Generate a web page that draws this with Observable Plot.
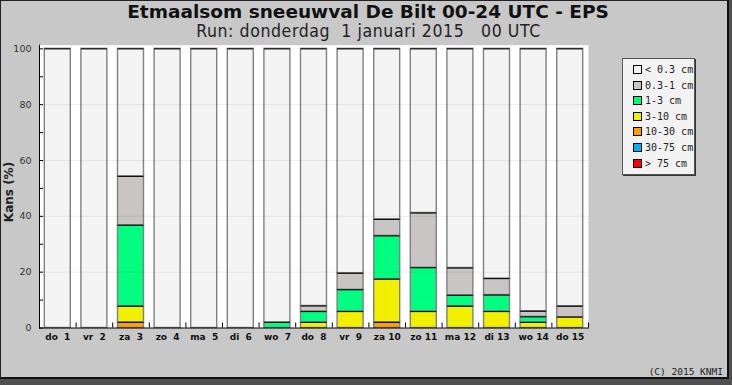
<!DOCTYPE html>
<html><head><meta charset="utf-8">
<script src="https://cdn.jsdelivr.net/npm/d3@7"></script>
<script src="https://cdn.jsdelivr.net/npm/@observablehq/plot@0.6"></script>
<style>
html,body{margin:0;padding:0;background:#c8c8c8;}
#wrap{position:relative;width:732px;height:385px;background:#505050;overflow:hidden;}
#panel{position:absolute;left:0;top:0;width:729px;height:379px;background:#c8c8c8;box-sizing:border-box;border-top:1px solid #222;border-left:1px solid #222;border-right:2px solid #111;border-bottom:2px solid #111;}
#title{position:absolute;left:0;top:1px;width:736px;text-align:center;font-family:"DejaVu Sans",sans-serif;font-weight:bold;font-size:18.5px;line-height:22px;color:#111;white-space:pre;}
#subtitle{position:absolute;left:0;top:21px;width:737px;text-align:center;font-family:"Liberation Sans Narrow","DejaVu Sans Condensed",sans-serif;font-size:17.5px;letter-spacing:0.6px;line-height:20px;color:#222;white-space:pre;}
#ylabel{position:absolute;left:9px;top:192px;transform:translate(-50%,-50%) rotate(-90deg);font-family:"DejaVu Sans",sans-serif;font-weight:bold;font-size:12px;color:#222;white-space:pre;}
#chart{position:absolute;left:0;top:0;}
#chart svg text{white-space:pre;}
#legend{position:absolute;left:622px;top:58px;width:73px;height:117px;background:#f2f2f2;box-sizing:border-box;border:1px solid #555;box-shadow:1px 1px 0 #333;}
.li{position:absolute;left:10px;height:12px;font-family:"DejaVu Sans Mono",monospace;font-size:10px;line-height:12px;color:#222;white-space:pre;}
.sw{display:inline-block;width:7px;height:7px;border:1px solid #000;vertical-align:-1px;margin-right:3px;}
#copy{position:absolute;right:9px;top:366px;font-family:"DejaVu Sans Mono",monospace;font-size:9.5px;color:#222;white-space:pre;}
</style>
</head><body>
<div id="wrap"><div id="panel"></div>
<div id="chart"></div>
<div id="title"></div>
<div id="subtitle"></div>
<div id="ylabel"></div>
<div id="legend"></div>
<div id="copy"></div>
</div>
<script>
const titleText = "Etmaalsom sneeuwval De Bilt 00-24 UTC - EPS";
const subtitleText = "Run: donderdag  1 januari 2015   00 UTC";
const yLabel = "Kans (%)";
const copyText = "(C) 2015 KNMI";

const days = ["do  1","vr  2","za  3","zo  4","ma  5","di  6","wo  7","do  8","vr  9","za 10","zo 11","ma 12","di 13","wo 14","do 15"];
// legend order (top to bottom)
const classes = ["< 0.3 cm","0.3-1 cm","1-3 cm","3-10 cm","10-30 cm","30-75 cm","> 75 cm"];
const colors  = ["#f4f4f4","#c9c5c5","#00ff80","#f0f000","#ff9f00","#00b0f0","#ff0000"];

// chance (%) per class per day
const pLt03  = [100,100,45.7,100,100,100,98,92.1,80.4,61.1,58.8,78.5,82.3,94,92.2];
const p03_1  = [0,0,17.5,0,0,0,0,2,5.9,5.9,19.6,9.8,5.9,2,3.9];
const p1_3   = [0,0,29,0,0,0,2,3.9,7.8,15.5,15.7,3.9,5.9,2,0];
const p3_10  = [0,0,5.8,0,0,0,0,2,5.9,15.5,5.9,7.8,5.9,2,3.9];
const p10_30 = [0,0,2,0,0,0,0,0,0,2,0,0,0,0,0];
const p30_75 = [0,0,0,0,0,0,0,0,0,0,0,0,0,0,0];
const pGt75  = [0,0,0,0,0,0,0,0,0,0,0,0,0,0,0];

const yLabelTicks = [0,20,40,60,80,100];
const yAllTicks = [0,10,20,30,40,50,60,70,80,90,100];
const gridTicks = [20,40,60,80];

const values = [pLt03,p03_1,p1_3,p3_10,p10_30,p30_75,pGt75];
const rows = [];
for (let k = classes.length - 1; k >= 0; k--) {
  days.forEach((d, i) => rows.push({day: d, cls: classes[k], value: values[k][i]}));
}

const W = 732, H = 385, mL = 39, mR = 144, mT = 44.7, mB = 57.5;
const step = (W - mL - mR) / days.length;

const chart = Plot.plot({
  width: W, height: H,
  marginLeft: mL, marginRight: mR, marginTop: mT, marginBottom: mB,
  style: {background: "transparent", overflow: "visible", fontFamily: "DejaVu Sans"},
  x: {domain: days, paddingInner: 0.29, paddingOuter: 0.145, round: false, label: null},
  y: {domain: [0, 101.3], label: null},
  color: {domain: classes, range: colors},
  marks: [
    Plot.frame({fill: "white", stroke: null}),
    Plot.barY(rows, {x: "day", y: "value", fill: "cls", stroke: "#808080", strokeWidth: 1.4}),
    Plot.tickY(rows.filter(d => d.value > 0), Plot.stackY2({x: "day", y: "value", z: "cls", stroke: "#111", strokeWidth: 1.2})),
    Plot.gridY(gridTicks, {stroke: "#000", strokeOpacity: 0.07}),
    Plot.axisY(yAllTicks, {tickSize: 4, dx: 4, tickFormat: () => "", stroke: "#000", label: null}),
    Plot.axisY(yLabelTicks, {tickSize: 0, tickPadding: 8, fontSize: 9.5, fill: "#333", label: null}),
    Plot.axisX(days, {tickSize: 5, dy: -5, dx: step / 2, tickFormat: () => "", stroke: "#000", label: null}),
    Plot.axisX({tickSize: 0, tickPadding: 6, fontSize: 9, fontWeight: "bold", fill: "#111", label: null}),
    Plot.frame({anchor: "left", stroke: "#000"}),
    Plot.frame({anchor: "bottom", stroke: "#000"})
  ]
});
document.getElementById("chart").appendChild(chart);

document.getElementById("title").textContent = titleText;
document.getElementById("subtitle").textContent = subtitleText;
document.getElementById("ylabel").textContent = yLabel;
document.getElementById("copy").textContent = copyText;

const lg = document.getElementById("legend");
classes.forEach((c, i) => {
  const item = document.createElement("div");
  item.className = "li";
  item.style.top = (5 + i * 15.6) + "px";
  const sw = document.createElement("span");
  sw.className = "sw";
  sw.style.background = colors[i];
  item.appendChild(sw);
  item.appendChild(document.createTextNode(c));
  lg.appendChild(item);
});
</script>
</body></html>
